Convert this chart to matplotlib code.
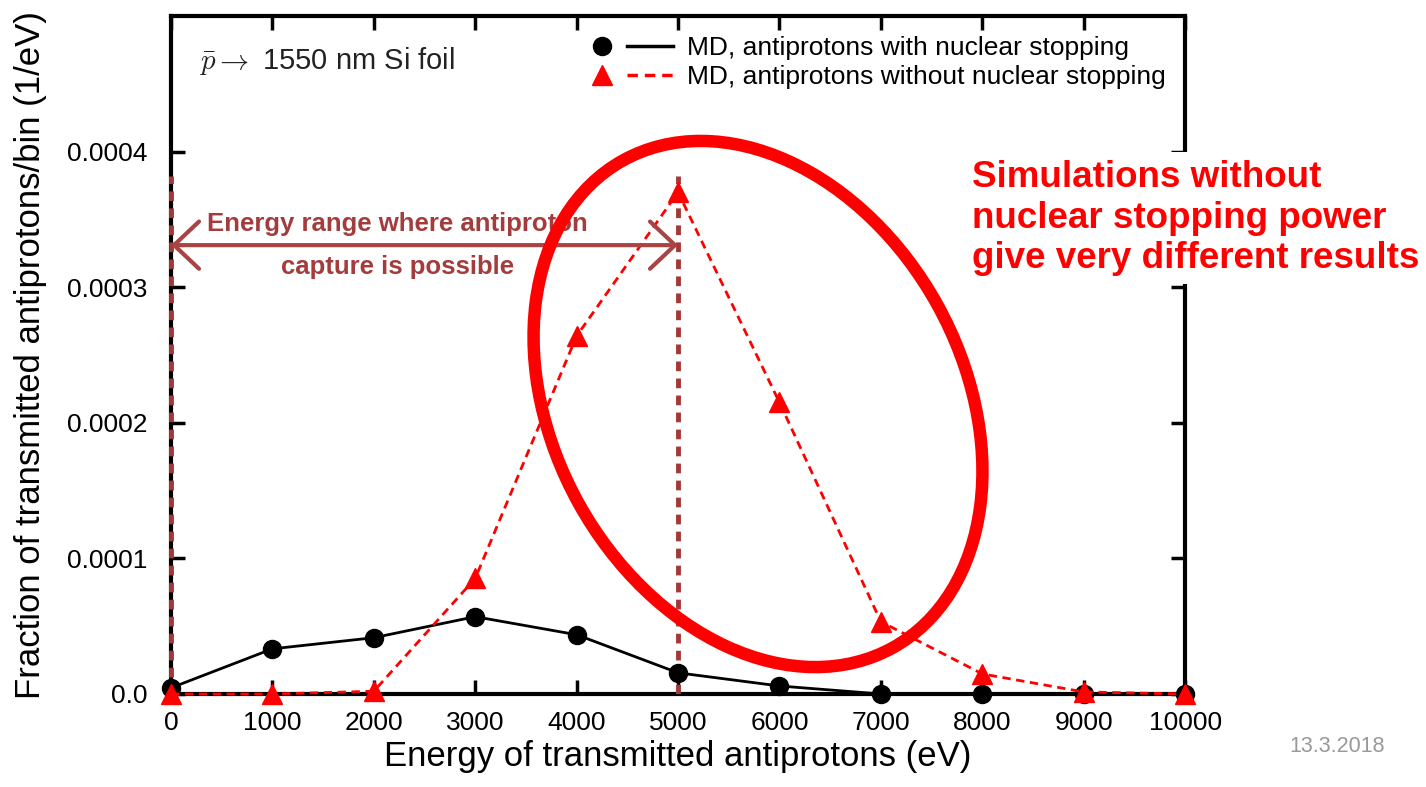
import matplotlib
matplotlib.use('agg')
import matplotlib.pyplot as plt
from matplotlib.patches import Ellipse
from matplotlib.lines import Line2D
from matplotlib.legend_handler import HandlerTuple

plt.rcParams['font.family'] = ['Liberation Sans', 'DejaVu Sans']
plt.rcParams['mathtext.fontset'] = 'cm'

# energies (eV)
energy = [0, 1000, 2000, 3000, 4000, 5000, 6000, 7000, 8000, 9000, 10000]
# MD, with nuclear stopping
with_ns = [0.0000045, 0.0000333, 0.0000415, 0.000057, 0.0000437, 0.0000156,
           0.0000059, 0.0, 0.0, 0.0, 0.0]
# MD, without nuclear stopping
without_ns = [0.0, 0.0, 0.000002, 0.0000852, 0.000264, 0.000370, 0.000215,
              0.0000533, 0.0000148, 0.0000015, 0.0]

capture_lo = 0
capture_hi = 5000
arrow_y = 0.000331
vline_top = 0.000382

xticks = list(range(0, 10001, 1000))
yticks = [0.0, 0.0001, 0.0002, 0.0003, 0.0004]
ytick_labels = ['0.0', '0.0001', '0.0002', '0.0003', '0.0004']

fig = plt.figure(figsize=(14.26, 7.87), dpi=100)
ax = fig.add_axes([0.1199, 0.1182, 0.7112, 0.8615])

brown = '#a33838'
ax.plot([capture_lo, capture_lo], [0, vline_top], color=brown, lw=3.5,
        ls=(0, (2, 1.5)), zorder=4, clip_on=False)
ax.plot([capture_hi, capture_hi], [0, vline_top], color=brown, lw=3.5,
        ls=(0, (2, 1.5)), zorder=4)

ax.plot(energy, with_ns, color='black', lw=2, marker='o', ms=13,
        zorder=5, clip_on=False)
ax.plot(energy, without_ns, color='#ff0000', lw=2, ls=(0, (3, 2)), marker='^',
        ms=15, zorder=6, clip_on=False)

ax.annotate('', xy=(capture_lo, arrow_y), xytext=(capture_hi, arrow_y),
            arrowprops=dict(arrowstyle='<->, head_length=0.9, head_width=0.85',
                            color='#a84444', lw=3, mutation_scale=20,
                            shrinkA=0, shrinkB=0), zorder=7)
ax.text(2230, 0.000338, 'Energy range where antiproton', color='#a33c3c',
        fontsize=18.5, fontweight='bold', ha='center', va='bottom')
ax.text(2230, 0.000324, 'capture is possible', color='#a33c3c',
        fontsize=18.5, fontweight='bold', ha='center', va='top')

ax.text(280, 0.000467, r'$\bar{p} \rightarrow$ 1550 nm Si foil', fontsize=21,
        va='center', ha='left', color='#222222')

ax.set_xlim(0, 10000)
ax.set_ylim(0, 0.0005)
ax.set_xticks(xticks)
ax.set_yticks(yticks)
ax.set_yticklabels(ytick_labels)
ax.tick_params(direction='in', length=10, width=2.5, labelsize=19, top=True,
               right=True)
ax.tick_params(axis='y', pad=17)
ax.tick_params(axis='x', pad=12)
for s in ax.spines.values():
    s.set_linewidth(3)

ax.set_xlabel('Energy of transmitted antiprotons (eV)', fontsize=25, labelpad=4)
ax.set_ylabel('Fraction of transmitted antiprotons/bin (1/eV)', fontsize=25,
              labelpad=14)

# legend handles: marker then a line segment
mk1 = Line2D([], [], color='black', marker='o', ms=13, ls='none')
ln1 = Line2D([], [], color='black', lw=2.5)
mk2 = Line2D([], [], color='#ff0000', marker='^', ms=15, ls='none')
ln2 = Line2D([], [], color='#ff0000', lw=2.5, ls=(0, (3, 2)))
ax.legend([(mk1, ln1), (mk2, ln2)],
          ['MD, antiprotons with nuclear stopping',
           'MD, antiprotons without nuclear stopping'],
          handler_map={tuple: HandlerTuple(ndivide=None, pad=0.1)},
          loc='upper right', bbox_to_anchor=(1.0, 1.0), frameon=False,
          fontsize=19, handlelength=3.6, borderaxespad=0.35,
          labelspacing=0.2, handletextpad=0.5)

ell = Ellipse((7.58, 3.83), 4.10, 5.57, angle=29, fill=False,
              edgecolor='#ff0000', lw=9, transform=fig.dpi_scale_trans,
              zorder=10)
fig.patches.append(ell)

fig.text(972 / 1426, 1 - 218 / 787,
         'Simulations without\nnuclear stopping power\ngive very different results',
         color='#ff0000', fontsize=26.5, fontweight='bold', ha='left', va='center',
         linespacing=1.2,
         bbox=dict(facecolor='white', edgecolor='none', pad=6))

fig.text(1385 / 1426, 1 - 746 / 787, '13.3.2018', color='#999999', fontsize=15.5,
         ha='right', va='center')

fig.savefig('out.png', dpi=100)
